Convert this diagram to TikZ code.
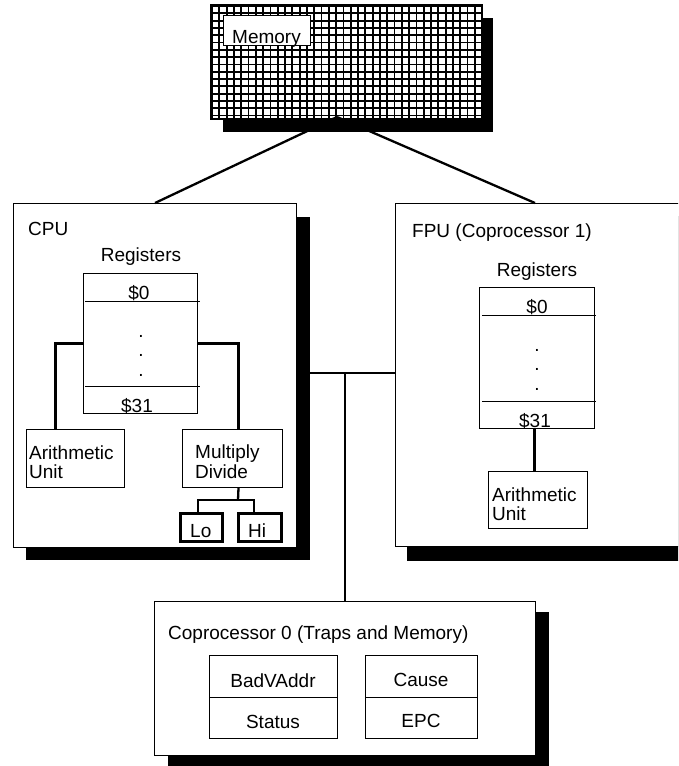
\documentclass[tikz,border=0pt]{standalone}
\usepackage{fontspec}
\setmainfont{Liberation Sans}
\begin{document}
\begin{tikzpicture}[x=1pt,y=-1pt,
  font=\fontsize{19}{22}\selectfont,
  box/.style={draw, line width=1pt, fill=white, inner sep=0pt, anchor=north west},
  thickbox/.style={box, line width=2.5pt},
  conn/.style={line width=2.3pt},
  txt/.style={inner sep=0pt},
  shadowfill/.style={fill=black}]
\useasboundingbox (0,0) rectangle (678,766);
\clip (0,0) rectangle (678,766);

% ---------- Memory ----------
\fill[shadowfill] (223,18) rectangle (493,132);
\node[box, minimum width=270pt, minimum height=113pt] (mem) at (211,5) {};
\begin{scope}
  \clip (211,5) rectangle (481,118);
  \foreach \i in {0,...,37} \draw[line width=1.8pt] ({212+\i*7.3},5) -- ++(0,113);
  \foreach \j in {0,...,15} \draw[line width=1.8pt] (211,{6+\j*7.3}) -- ++(270,0);
\end{scope}
\draw[line width=1.5pt] (mem.north west) rectangle (mem.south east);
\node[box, minimum width=87pt, minimum height=30pt] (memlbl) at (223,15) {};
\node[txt, anchor=base west] (memtxt) at (232,43) {Memory};
\coordinate (membot) at (337,117);

% ---------- CPU ----------
\fill[shadowfill] (26,217) rectangle (310,560);
\node[box, minimum width=283pt, minimum height=344pt] (cpu) at (13,203) {};
\node[txt, anchor=base west] (cputxt) at (28,235) {CPU};
\node[txt, anchor=base] (cregtxt) at (141,261) {Registers};
\node[box, minimum width=114pt, minimum height=140pt] (creg) at (83,273) {};
\draw[line width=1pt] (85,301) -- (200,301);
\draw[line width=1pt] (85,386) -- (200,386);
\node[txt, anchor=base] (cr0) at (139,299) {\$0};
\node[txt, anchor=base] (cd1) at (141,337) {.};
\node[txt, anchor=base] (cd2) at (141,356) {.};
\node[txt, anchor=base] (cd3) at (141,376) {.};
\node[txt, anchor=base] (cr31) at (137,412) {\$31};

\node[box, minimum width=98pt, minimum height=58pt] (cau) at (26,429) {};
\node[txt, anchor=base west] (cau1) at (29,459) {Arithmetic};
\node[txt, anchor=base west] (cau2) at (29,478) {Unit};

\node[box, minimum width=100pt, minimum height=58pt] (md) at (182,429) {};
\node[txt, anchor=base west] (md1) at (195,458) {Multiply};
\node[txt, anchor=base west] (md2) at (195,478) {Divide};

\node[thickbox, minimum width=42pt, minimum height=28pt] (lo) at (179,512) {};
\node[txt, anchor=base west] (lotxt) at (190,537) {Lo};
\node[thickbox, minimum width=43pt, minimum height=28pt] (hi) at (237,512) {};
\node[txt, anchor=base west] (hitxt) at (248,537) {Hi};

\draw[conn] (creg.west) -| ([xshift=-20pt]cau.north);
\draw[conn] (creg.east) -| ([xshift=6pt]md.north);
\coordinate (mdj) at (238,500);
\draw[conn] ([xshift=6pt]md.south) -- (mdj);
\draw[conn] ([xshift=-3pt]lo.north) |- (mdj) -| ([xshift=-6pt]hi.north);

% ---------- FPU ----------
\fill[shadowfill] (407,216) rectangle (695,561);
\node[box, minimum width=290pt, minimum height=343pt] (fpu) at (395,203) {};
\node[txt, anchor=base west] (fputxt) at (412,237) {FPU (Coprocessor 1)};
\node[txt, anchor=base] (fregtxt) at (537,276) {Registers};
\node[box, minimum width=115pt, minimum height=141pt] (freg) at (479,287) {};
\draw[line width=1pt] (482,315) -- (596,315);
\draw[line width=1pt] (482,401) -- (596,401);
\node[txt, anchor=base] (fr0) at (537,313) {\$0};
\node[txt, anchor=base] (fd1) at (537,351) {.};
\node[txt, anchor=base] (fd2) at (537,370) {.};
\node[txt, anchor=base] (fd3) at (537,390) {.};
\node[txt, anchor=base] (fr31) at (535,427) {\$31};

\node[box, minimum width=99pt, minimum height=57pt] (fau) at (488,471) {};
\node[txt, anchor=base west] (fau1) at (492,501) {Arithmetic};
\node[txt, anchor=base west] (fau2) at (492,520) {Unit};
\draw[conn] ([xshift=-2.5pt]freg.south) -- ([xshift=-2.5pt]freg.south |- fau.north);

% ---------- Coprocessor 0 ----------
\fill[shadowfill] (168,612) rectangle (549,770);
\node[box, minimum width=381pt, minimum height=154pt] (cop) at (154,601) {};
\node[txt, anchor=base west] (coptxt) at (168,639) {Coprocessor 0 (Traps and Memory)};
\node[box, minimum width=128pt, minimum height=83pt] (bv) at (209,655) {};
\draw[line width=1pt] (bv.west) -- (bv.east);
\node[txt, anchor=base] (bvtxt) at (273,687) {BadVAddr};
\node[txt, anchor=base] (sttxt) at (273,728) {Status};
\node[box, minimum width=112pt, minimum height=83pt] (ca) at (365,655) {};
\draw[line width=1pt] (ca.west) -- (ca.east);
\node[txt, anchor=base] (catxt) at (421,686) {Cause};
\node[txt, anchor=base] (epctxt) at (421,727) {EPC};

% ---------- Bus and memory links ----------
\coordinate (busL) at (310,373);
\coordinate (busJ) at (345,373);
\draw[conn] (busL) -- (fpu.west |- busL);
\draw[conn] (busJ) -- (busJ |- cop.north);
\draw[conn] (membot) -- (cpu.north);
\draw[conn] (membot) -- (535,203);
\end{tikzpicture}
\end{document}
